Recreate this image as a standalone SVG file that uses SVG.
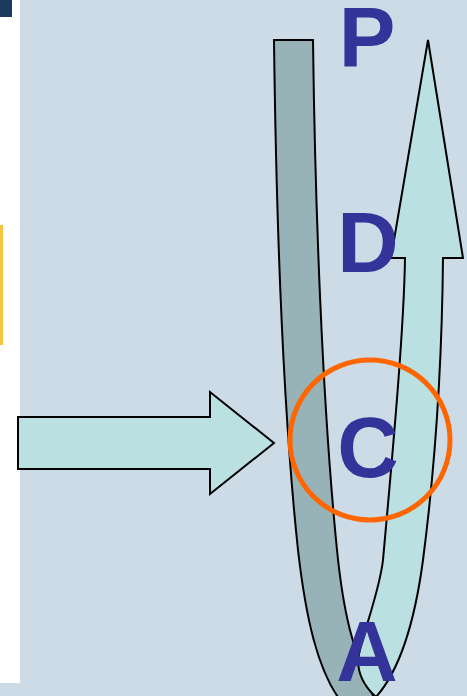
<svg xmlns="http://www.w3.org/2000/svg" width="467" height="696" viewBox="0 0 467 696">
  <style>
    .edge { stroke: #000; stroke-width: 2; stroke-linejoin: miter; }
    .light { fill: #bae0e2; }
    .dark { fill: #97b3b7; }
    .letter { font-family: "Liberation Sans", Arial, sans-serif; font-weight: bold; font-size: 85px; fill: #333399; text-anchor: middle; }
  </style>
  <rect x="0" y="0" width="467" height="696" fill="#cddbe6"/>
  <g id="side-strip">
    <rect x="0" y="0" width="20" height="683" fill="#ffffff"/>
    <rect x="0" y="0" width="12" height="17" fill="#1c3a5e"/>
    <rect x="0" y="225" width="3" height="120" fill="#f5c440"/>
  </g>
  <g id="input-arrow">
    <path class="edge light" d="M18,417 L210,417 L210,392 L274,443 L210,494 L210,469 L18,469 Z"/>
  </g>
  <g id="cycle">
    <path id="back-band" class="edge dark" d="M274,40 L313,40 C315,200 322,400 337,550 C343,610 352,650 375,700 L340,700 C318,670 306,620 298,550 C282,400 276,200 274,40 Z"/>
    <path id="front-arrow" class="edge light" d="M428,40 L463,258 L443,258 C442,360 436,460 423,560 C415,620 400,670 376,697 C366,688 358,675 358,660 C360,640 379,595 383,560 C392,460 404,330 405,258 L391,258 Z"/>
  </g>
  <g id="focus">
    <circle cx="370" cy="440" r="80" fill="none" stroke="#ff6600" stroke-width="5"/>
  </g>
  <g id="labels">
    <text class="letter" x="367" y="67">P</text>
    <text class="letter" x="368" y="272">D</text>
    <text class="letter" x="368" y="477">C</text>
    <text class="letter" x="367" y="681">A</text>
  </g>
</svg>
